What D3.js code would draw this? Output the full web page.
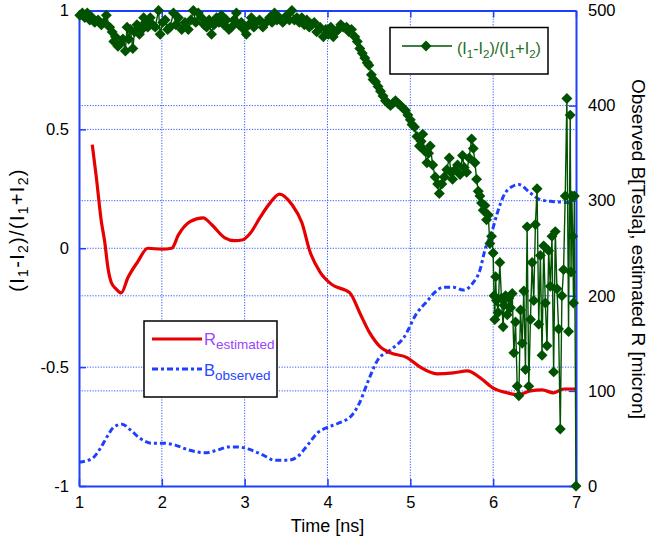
<!DOCTYPE html>
<html>
<head>
<meta charset="utf-8">
<script src="https://cdn.jsdelivr.net/npm/d3@7"></script>
<style>
  body { margin: 0; background: #fff; }
  svg { font-family: "Liberation Sans", Arial, Helvetica, sans-serif; }
</style>
</head>
<body>
<div id="vis"></div>
<script>
// ---- data ----
var xTicks = [1, 2, 3, 4, 5, 6, 7];
var leftTicks = [-1, -0.5, 0, 0.5, 1];
var rightTicks = [0, 100, 200, 300, 400, 500];

// (I1-I2)/(I1+I2), left axis
var greenTime = [
  1.01,1.04,1.07,1.10,1.13,1.16,1.19,1.23,1.27,1.30,1.33,1.37,1.40,1.42,1.44,1.47,1.50,1.53,1.56,1.58,
  1.60,1.62,1.65,1.67,1.70,1.73,1.76,1.78,1.80,1.83,1.86,1.89,1.92,1.96,1.98,2.01,2.04,2.07,2.10,2.14,
  2.17,2.20,2.24,2.28,2.32,2.35,2.38,2.41,2.44,2.48,2.51,2.54,2.57,2.60,2.63,2.66,2.69,2.72,2.75,2.78,
  2.81,2.84,2.87,2.90,2.93,2.96,2.99,3.02,3.05,3.08,3.11,3.14,3.18,3.22,3.26,3.30,3.33,3.36,3.39,3.42,
  3.46,3.51,3.54,3.57,3.60,3.63,3.66,3.69,3.72,3.75,3.78,3.81,3.84,3.87,3.91,3.95,3.98,4.01,
  4.04,4.07,4.10,4.13,4.16,4.19,4.23,4.26,4.29,4.33,4.36,4.39,4.42,4.45,4.48,4.50,4.53,4.55,4.58,4.61,
  4.64,4.67,4.70,4.73,4.76,4.79,4.82,4.85,4.88,4.91,4.94,4.97,5.00,5.02,5.05,5.08,5.11,5.13,5.15,5.17,
  5.20,5.22,5.24,5.27,5.30,5.33,5.35,5.38,5.41,5.44,5.47,5.49,5.51,5.54,5.57,5.60,5.63,5.65,5.68,5.71,
  5.74,5.76,5.78,5.80,5.82,5.84,5.86,5.88,5.90,5.92,5.94,5.96,5.98,
  6.00,6.01,6.02,6.03,6.04,6.06,6.08,6.10,6.12,6.13,6.15,6.17,6.19,6.21,6.23,6.25,6.27,6.29,6.31,6.33,
  6.35,6.37,6.39,6.41,6.43,6.45,6.47,6.49,6.51,6.53,6.55,6.57,6.59,6.61,6.63,6.65,6.67,6.69,6.71,6.73,
  6.75,6.77,6.79,6.81,6.83,6.85,6.87,6.89,6.91,6.93,6.94,6.95,6.96,6.97,6.98,7.00
];
var greenRatio = [
  0.98,0.99,0.97,0.99,0.96,0.97,0.95,0.96,0.94,0.95,0.98,0.93,0.91,0.87,0.89,0.85,0.86,0.88,0.83,0.93,
  0.88,0.92,0.84,0.91,0.94,0.90,0.92,0.97,0.95,0.93,0.97,0.94,0.93,1.00,0.90,0.95,0.96,0.92,0.93,0.99,
  0.94,0.97,0.92,0.95,0.92,0.96,1.00,0.95,0.99,0.97,0.94,0.93,0.96,0.90,0.94,0.97,0.95,0.98,0.94,0.96,
  0.92,0.93,0.96,0.99,0.94,0.95,0.92,0.90,0.94,0.97,0.93,0.95,0.96,0.93,0.95,0.97,0.95,0.99,0.96,0.97,
  0.95,0.98,0.96,1.00,0.96,0.97,0.95,0.97,0.94,0.96,0.93,0.94,0.95,0.91,0.93,0.89,0.92,0.90,
  0.93,0.89,0.91,0.92,0.94,0.93,0.93,0.91,0.92,0.89,0.87,0.84,0.82,0.80,0.78,0.77,0.73,0.71,0.70,0.68,
  0.66,0.64,0.62,0.61,0.60,0.61,0.62,0.61,0.60,0.59,0.58,0.56,0.54,0.52,0.51,0.47,0.43,0.45,0.48,0.41,
  0.36,0.40,0.43,0.35,0.30,0.27,0.23,0.27,0.30,0.33,0.38,0.32,0.29,0.33,0.35,0.31,0.39,0.34,0.32,0.38,
  0.46,0.42,0.36,0.29,0.24,0.22,0.19,0.16,0.18,0.12,0.14,0.02,0.05,
  -0.02,-0.20,-0.30,-0.12,-0.22,-0.27,-0.06,-0.21,-0.33,-0.24,-0.20,-0.28,-0.21,-0.25,-0.19,-0.44,-0.31,-0.58,-0.62,-0.26,
  -0.40,-0.18,-0.51,0.09,-0.58,-0.30,-0.06,-0.22,0.10,0.25,-0.32,-0.03,-0.45,0.01,-0.23,-0.41,-0.01,-0.16,0.05,-0.52,
  0.07,-0.17,-0.34,-0.76,-0.20,-0.09,0.22,0.63,-0.35,0.56,-0.10,0.22,0.05,-0.23,0.22,-1.00
];

// R estimated [micron], right axis
var redTime = [1.16,1.21,1.27,1.31,1.35,1.39,1.45,1.51,1.59,1.71,1.83,2.00,2.12,2.20,2.34,2.50,
  2.60,2.76,2.88,2.98,3.07,3.19,3.31,3.42,3.57,3.69,3.79,3.91,4.05,4.27,4.39,4.51,4.64,4.76,4.96,
  5.12,5.32,5.52,5.69,5.84,6.00,6.17,6.30,6.45,6.59,6.73,6.85,7.00];
var redRadius = [359,324,278,257,229,214,207,203,219,236,250,249,250,264,278,282,
  275,261,258,259,266,283,298,307,296,277,246,225,212,203,182,161,146,140,135,
  125,118,119,121,114,103,98,96,100,101,98,102,102];

// B observed [Tesla], right axis
var blueTime = [1.00,1.16,1.26,1.34,1.42,1.52,1.62,1.74,1.88,2.02,2.16,2.32,2.52,2.68,2.80,2.92,
  3.04,3.21,3.37,3.52,3.64,3.76,3.88,4.01,4.13,4.30,4.39,4.48,4.61,4.76,4.92,5.08,5.20,5.30,5.40,
  5.52,5.64,5.76,5.84,5.90,5.99,6.05,6.12,6.23,6.31,6.45,6.57,6.73,6.89,6.96];
var blueField = [25,29,40,52,62,65,59,50,45,45,43,38,35,38,41,41,
  39,33,27,27,31,43,56,62,66,75,88,108,133,143,156,182,194,204,209,
  209,206,214,227,248,269,287,304,315,317,308,301,299,298,296];

// ---- layout ----
var width = 649, height = 540;
var plot = { left: 79, right: 576, top: 10.5, bottom: 486 };

var axisColor = '#1f3fff';
var gridColor = '#3355ff';
var green = '#005200';
var red = '#e60000';
var blue = '#1f3fff';

var x = d3.scaleLinear().domain([1, 7]).range([plot.left, plot.right]);
var yL = d3.scaleLinear().domain([-1, 1]).range([plot.bottom, plot.top]);
var yR = d3.scaleLinear().domain([0, 500]).range([plot.bottom, plot.top]);

var svg = d3.select('#vis').append('svg')
  .attr('width', width)
  .attr('height', height);

// grid (dotted)
var grid = svg.append('g')
  .attr('stroke', gridColor)
  .attr('stroke-width', 1)
  .attr('stroke-dasharray', '1.2,1.5');

grid.selectAll('.vgrid').data(xTicks.slice(1, -1)).enter().append('line')
  .attr('x1', function (d) { return x(d); })
  .attr('x2', function (d) { return x(d); })
  .attr('y1', plot.top).attr('y2', plot.bottom);

grid.selectAll('.lgrid').data(leftTicks.slice(1, -1)).enter().append('line')
  .attr('x1', plot.left).attr('x2', plot.right)
  .attr('y1', function (d) { return yL(d); })
  .attr('y2', function (d) { return yL(d); });

grid.selectAll('.rgrid').data(rightTicks.slice(1, -1)).enter().append('line')
  .attr('x1', plot.left).attr('x2', plot.right)
  .attr('y1', function (d) { return yR(d); })
  .attr('y2', function (d) { return yR(d); });

// axes, ticks pointing inward
function styleAxis(g) {
  g.select('.domain').attr('stroke', axisColor).attr('stroke-width', 2);
  g.selectAll('.tick line').attr('stroke', axisColor).attr('stroke-width', 1.5);
  g.selectAll('.tick text').attr('fill', '#000').style('font-size', '16.5px');
}

svg.append('g')
  .attr('transform', 'translate(0,' + plot.bottom + ')')
  .call(d3.axisBottom(x).tickValues(xTicks).tickSizeInner(-7).tickSizeOuter(0)
    .tickPadding(10).tickFormat(function (d) { return String(d); }))
  .call(styleAxis);

svg.append('g')
  .attr('transform', 'translate(0,' + plot.top + ')')
  .call(d3.axisTop(x).tickValues(xTicks).tickSizeInner(-7).tickSizeOuter(0)
    .tickFormat(''))
  .call(styleAxis);

svg.append('g')
  .attr('transform', 'translate(' + plot.left + ',0)')
  .call(d3.axisLeft(yL).tickValues(leftTicks).tickSizeInner(-7).tickSizeOuter(0)
    .tickPadding(10).tickFormat(function (d) { return String(d); }))
  .call(styleAxis);

svg.append('g')
  .attr('transform', 'translate(' + plot.right + ',0)')
  .call(d3.axisRight(yR).tickValues(rightTicks).tickSizeInner(-7).tickSizeOuter(0)
    .tickPadding(12).tickFormat(function (d) { return String(d); }))
  .call(styleAxis);

// ---- series ----
var blueData = blueTime.map(function (t, i) { return { t: t, v: blueField[i] }; });
var redData = redTime.map(function (t, i) { return { t: t, v: redRadius[i] }; });
var greenData = greenTime.map(function (t, i) { return { t: t, v: greenRatio[i] }; });

var smoothLine = d3.line()
  .x(function (d) { return x(d.t); })
  .y(function (d) { return yR(d.v); })
  .curve(d3.curveMonotoneX);

svg.append('path')
  .datum(blueData)
  .attr('d', smoothLine)
  .attr('fill', 'none')
  .attr('stroke', blue)
  .attr('stroke-width', 3)
  .attr('stroke-dasharray', '6,3,3,3');

svg.append('path')
  .datum(redData)
  .attr('d', smoothLine)
  .attr('fill', 'none')
  .attr('stroke', red)
  .attr('stroke-width', 3.2)
  .attr('stroke-linejoin', 'round');

var greenLine = d3.line()
  .x(function (d) { return x(d.t); })
  .y(function (d) { return yL(d.v); });

svg.append('path')
  .datum(greenData)
  .attr('d', greenLine)
  .attr('fill', 'none')
  .attr('stroke', green)
  .attr('stroke-width', 1.4);

var diamond = d3.symbol().type(d3.symbolSquare).size(60);

svg.append('g').selectAll('path').data(greenData).enter().append('path')
  .attr('d', diamond)
  .attr('transform', function (d) {
    return 'translate(' + x(d.t) + ',' + yL(d.v) + ') rotate(45)';
  })
  .attr('fill', green);

// ---- text with subscripts ----
function richText(textSel, parts, subSize, shift) {
  var down = false;
  parts.forEach(function (p) {
    var span = textSel.append('tspan').text(p[0]);
    if (p[1]) {
      span.style('font-size', subSize + 'px');
      if (!down) { span.attr('dy', shift); down = true; }
    } else if (down) {
      span.attr('dy', -shift);
      down = false;
    }
  });
}

var ratioParts = [['(I'], ['1', true], ['-I'], ['2', true], [')/(I'], ['1', true], ['+I'], ['2', true], [')']];

// axis titles
svg.append('text')
  .attr('x', (plot.left + plot.right) / 2)
  .attr('y', 532)
  .attr('text-anchor', 'middle')
  .style('font-size', '18px')
  .text('Time [ns]');

var leftTitle = svg.append('text')
  .attr('transform', 'translate(24,230) rotate(-90)')
  .attr('text-anchor', 'middle')
  .style('font-size', '20px')
  .style('letter-spacing', '1.3px');
richText(leftTitle, ratioParts, 14, 4);

svg.append('text')
  .attr('transform', 'translate(632,249) rotate(90)')
  .attr('text-anchor', 'middle')
  .style('font-size', '19px')
  .text('Observed B[Tesla], estimated R [micron]');

// ---- legends ----
var leg1 = svg.append('g');
leg1.append('rect')
  .attr('x', 390).attr('y', 27.5).attr('width', 158).attr('height', 46.5)
  .attr('fill', '#fff').attr('stroke', '#000').attr('stroke-width', 1.5);
leg1.append('line')
  .attr('x1', 402).attr('x2', 452).attr('y1', 46).attr('y2', 46)
  .attr('stroke', green).attr('stroke-width', 1.4);
leg1.append('path')
  .attr('d', diamond)
  .attr('transform', 'translate(426,46) rotate(45)')
  .attr('fill', green);
var leg1Text = leg1.append('text')
  .attr('x', 457).attr('y', 54)
  .attr('fill', '#1c6e1c')
  .style('font-size', '16px');
richText(leg1Text, ratioParts, 11.5, 4);

var leg2 = svg.append('g');
leg2.append('rect')
  .attr('x', 144).attr('y', 321).attr('width', 133).attr('height', 76)
  .attr('fill', '#fff').attr('stroke', '#000').attr('stroke-width', 1.5);
leg2.append('line')
  .attr('x1', 152).attr('x2', 202).attr('y1', 339).attr('y2', 339)
  .attr('stroke', red).attr('stroke-width', 3.2);
leg2.append('line')
  .attr('x1', 152).attr('x2', 202).attr('y1', 369).attr('y2', 369)
  .attr('stroke', blue).attr('stroke-width', 3)
  .attr('stroke-dasharray', '6,3,3,3');
var rText = leg2.append('text')
  .attr('x', 204).attr('y', 345)
  .attr('fill', '#9a44ff')
  .style('font-size', '16.5px');
richText(rText, [['R'], ['estimated', true]], 13.5, 4);
var bText = leg2.append('text')
  .attr('x', 204).attr('y', 376)
  .attr('fill', '#2846ff')
  .style('font-size', '16.5px');
richText(bText, [['B'], ['observed', true]], 13.5, 4);
</script>
</body>
</html>
